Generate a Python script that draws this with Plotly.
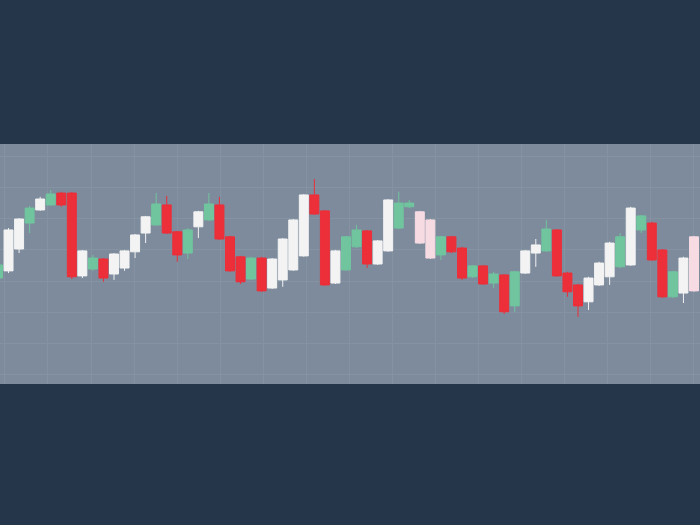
import plotly.graph_objects as go

# candle index, colour group, and OHLC values
idx = list(range(67))
kind = ["G","W","W","G","W","G","R","R","W","G","R","W","W","W","W","G","R","R","G","W",
        "G","R","R","R","G","R","W","W","W","W","R","R","W","G","G","R","W","W","G","G",
        "P","P","G","R","R","G","R","G","R","G","W","W","G","R","R","R","W","W","W","G",
        "W","G","R","R","G","W","P"]
open_ = [41.0,43.3,50.3,58.6,62.8,64.4,68.2,68.2,41.7,43.9,47.1,42.3,44.2,49.4,55.4,58.0,64.4,55.8,49.0,57.4,
         59.6,64.4,54.2,47.8,40.7,47.4,37.8,40.4,43.6,48.1,67.6,62.5,39.4,43.6,51.0,56.1,45.5,49.7,57.0,63.8,
         62.2,59.6,48.4,54.2,50.6,41.4,44.9,39.4,42.0,32.1,42.6,49.0,49.7,56.4,42.6,38.8,33.4,38.8,41.4,44.6,
         45.2,56.4,58.6,50.0,35.0,36.2,54.2]
high = [46.2,57.0,60.2,64.1,67.0,69.2,68.6,68.6,50.0,48.4,47.4,49.0,50.0,55.1,60.9,68.2,67.3,56.1,57.0,62.5,
        68.2,67.0,54.5,48.1,47.8,47.8,47.4,53.8,59.9,67.9,72.7,62.8,50.0,54.5,58.0,56.4,53.2,66.3,68.6,66.0,
        62.5,59.9,54.5,54.5,51.0,45.2,45.2,43.0,42.3,43.3,50.0,53.5,59.6,56.7,43.0,39.1,41.4,46.2,52.6,55.4,
        63.8,61.2,59.0,50.3,43.3,47.8,54.5]
low = [39.8,42.6,49.0,55.4,62.5,64.1,63.8,40.7,41.0,43.3,39.8,40.4,43.3,47.4,52.2,57.7,55.1,46.2,47.1,53.8,
       59.3,53.2,43.0,39.1,40.4,36.6,37.5,38.2,43.3,47.8,61.2,38.5,39.1,43.3,50.6,44.2,45.2,49.4,56.7,63.4,
       51.9,47.1,46.8,49.0,40.4,41.0,38.8,37.8,29.5,30.2,42.3,44.6,49.4,41.4,35.0,28.6,30.8,38.5,38.8,44.2,
       44.9,55.4,46.5,34.6,34.6,33.0,36.6]
close = [45.2,56.4,59.9,63.4,66.3,67.9,64.4,41.4,49.7,47.4,41.0,48.7,49.7,54.8,60.6,64.7,55.4,48.4,56.4,62.2,
         64.7,53.5,43.3,39.8,47.4,36.9,47.1,53.5,59.6,67.6,61.5,38.8,49.7,54.2,56.4,45.5,52.9,66.0,65.0,65.0,
         52.2,47.4,54.2,49.4,41.0,44.9,39.1,42.3,30.2,43.0,49.7,51.6,56.7,41.7,36.6,32.1,41.0,45.8,52.2,54.2,
         63.4,60.9,46.8,35.0,43.0,47.4,36.9]

colors = {"W": "#f3f3f3", "G": "#70c59e", "R": "#ec2f39", "P": "#f7dbe3"}

fig = go.Figure()
for k, col in colors.items():
    sel = [i for i in idx if kind[i] == k]
    fig.add_trace(go.Candlestick(
        x=[idx[i] for i in sel],
        open=[open_[i] for i in sel],
        high=[high[i] for i in sel],
        low=[low[i] for i in sel],
        close=[close[i] for i in sel],
        increasing=dict(line=dict(color=col, width=1), fillcolor=col),
        decreasing=dict(line=dict(color=col, width=1), fillcolor=col),
        showlegend=False,
        hoverinfo="skip",
    ))

fig.update_layout(
    width=700, height=525,
    margin=dict(l=0, r=0, t=144, b=141),
    paper_bgcolor="#25354a",
    plot_bgcolor="#7d8b9c",
    boxgap=0.15,
    boxgroupgap=0,
    xaxis=dict(range=[0.19, 66.57], tick0=4.74, dtick=4.08, showgrid=True,
               gridcolor="#8592a2", gridwidth=1, showticklabels=False, zeroline=False,
               rangeslider=dict(visible=False), ticks=""),
    yaxis=dict(range=[7.1, 83.9], tick0=0, dtick=10, showgrid=True,
               gridcolor="#8592a2", gridwidth=1, showticklabels=False, zeroline=False, ticks=""),
)

fig.write_html("out.html",
               config={"displayModeBar": False},
               post_script="document.body.style.margin='0';document.body.style.background='#25354a';")
